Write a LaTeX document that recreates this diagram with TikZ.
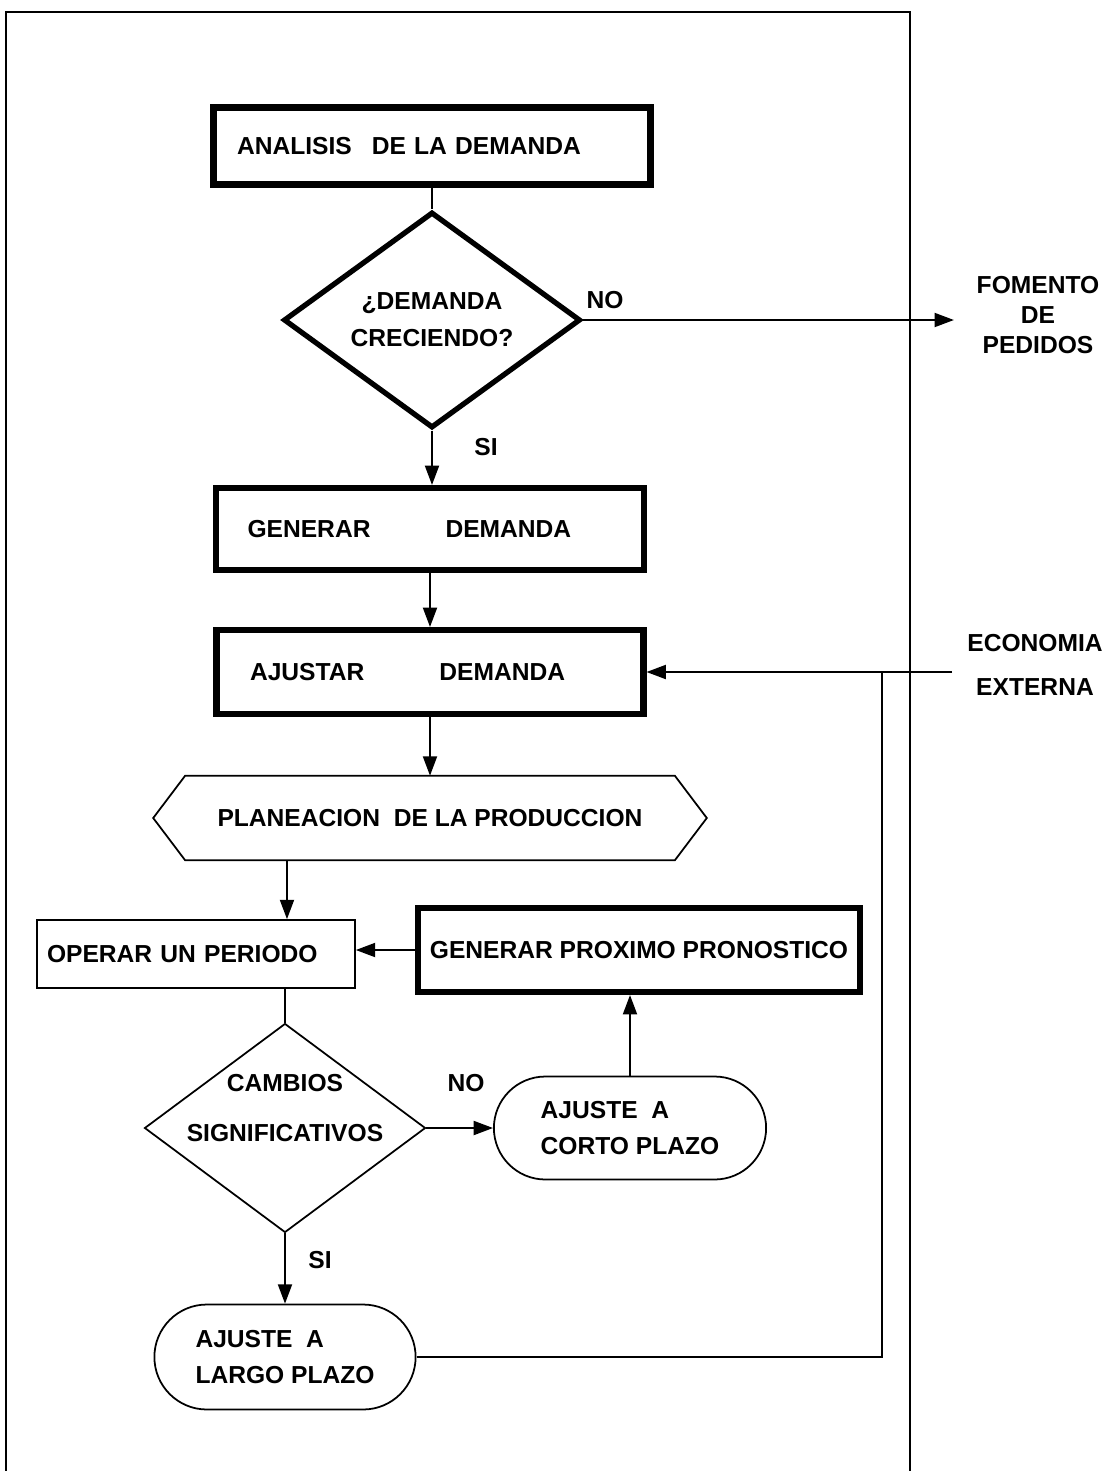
\documentclass[tikz,border=0pt]{standalone}
\usepackage{fontspec}
\setmainfont{Liberation Sans}
\usetikzlibrary{shapes.geometric,shapes.misc,arrows.meta}

\begin{document}
\begin{tikzpicture}[x=0.02cm,y=-0.02cm,
 every node/.style={font=\fontsize{14}{17}\selectfont\bfseries},
 caja/.style={draw,line width=3.5pt,align=left},
 cajita/.style={draw,line width=1pt,align=left},
 decision/.style={draw,diamond,inner sep=0pt,aspect=1.4,align=center},
 terminal/.style={draw,rounded rectangle,line width=1pt,align=left},
 flecha/.style={line width=1pt,-{Triangle[length=11pt,width=8pt]}},
 linea/.style={line width=1pt},
 marco/.style={line width=1.2pt}]
 \useasboundingbox (0,0) rectangle (1117,1471);
 \draw[marco] (6,1471)--(6,12)--(910,12)--(910,1471);

 \node[caja,minimum width=8.74cm,minimum height=1.54cm,inner xsep=0.45cm,text width=7.8cm] (analisis) at (432,146) {ANALISIS\hspace{0.4cm}DE LA DEMANDA};
 \node[decision,line width=3pt,minimum width=5.94cm,minimum height=4.32cm] (dem) at (432,320) {¿DEMANDA\\[4pt]CRECIENDO?};
 \node[align=center,inner xsep=0.45cm] (fomento) at (1038,315) {FOMENTO\\DE\\PEDIDOS};
 \node (no1) at (605,300) {NO};
 \node (si1) at (486,447) {SI};
 \node[caja,minimum width=8.56cm,minimum height=1.64cm,inner xsep=0.6cm,text width=7.3cm] (generar) at (430,529) {GENERAR\hspace{1.5cm}DEMANDA};
 \node[caja,minimum width=8.54cm,minimum height=1.68cm,inner xsep=0.66cm,text width=7.2cm] (ajustar) at (430,672) {AJUSTAR\hspace{1.5cm}DEMANDA};
 \node[align=center,inner xsep=0.3cm] (economia) at (1035,665) {ECONOMIA\\[8pt]EXTERNA};
 \coordinate (lazo) at (882,672);
 \node[minimum width=11.06cm,minimum height=1.68cm] (plan) at (430,818) {PLANEACION\ \ DE LA PRODUCCION};
 \draw[linea] (plan.west)--([xshift=0.64cm]plan.north west)--([xshift=-0.64cm]plan.north east)--(plan.east)--([xshift=-0.64cm]plan.south east)--([xshift=0.64cm]plan.south west)--cycle;
 \node[cajita,minimum width=6.36cm,minimum height=1.36cm,inner xsep=0.2cm,text width=5.96cm] (operar) at (196,954) {OPERAR UN PERIODO};
 \node[caja,minimum width=8.84cm,minimum height=1.68cm] (pronostico) at (639,950) {GENERAR PROXIMO PRONOSTICO};
 \coordinate (opin) at ([xshift=1.82cm]operar.north);
 \node[decision,line width=1pt,minimum width=5.62cm,minimum height=4.18cm] (cambios) at (285,1128) {};
 \node[align=center] (cambiostxt) at (285,1108) {CAMBIOS\\[11pt]SIGNIFICATIVOS};
 \node (no2) at (466,1083) {NO};
 \node[terminal,minimum width=5.68cm,minimum height=2.06cm] (corto) at (630,1128) {AJUSTE\ \ A\\[3pt]CORTO PLAZO};
 \node (si2) at (320,1260) {SI};
 \node[terminal,minimum width=5.46cm,minimum height=2.1cm] (largo) at (285,1357) {AJUSTE\ \ A\\[3pt]LARGO PLAZO};

 \draw[linea] (analisis.south)--(dem.north);
 \draw[flecha] (dem.east)--(dem.east -| fomento.west);
 \draw[flecha] (dem.south)--(dem.south |- generar.north);
 \draw[flecha] (generar.south)--(ajustar.north);
 \draw[flecha] (economia.west |- lazo)--(lazo -| ajustar.east);
 \draw[flecha] (ajustar.south)--(ajustar.south |- plan.north);
 \draw[flecha] (opin |- plan.south)--(opin);
 \draw[flecha] (pronostico.west)--(pronostico.west -| operar.east);
 \draw[linea] (cambios.north |- operar.south)--(cambios.north);
 \draw[flecha] (cambios.east)--(cambios.east -| corto.west);
 \draw[flecha] (corto.north)--(corto.north |- pronostico.south);
 \draw[flecha] (cambios.south)--(cambios.south |- largo.north);
 \draw[linea] (largo.east)-|(lazo);

\end{tikzpicture}
\end{document}
